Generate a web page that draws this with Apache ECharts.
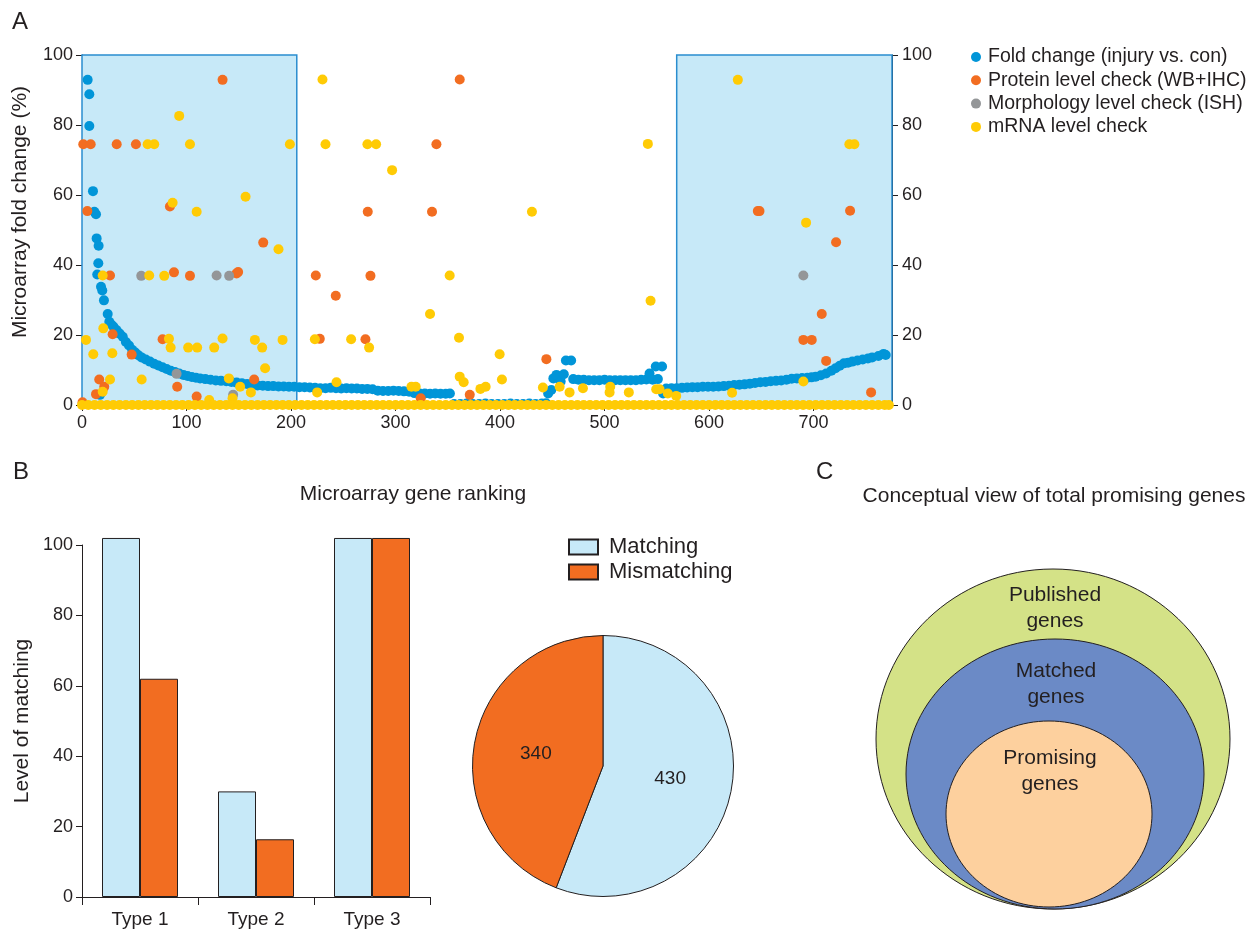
<!DOCTYPE html>
<html>
<head>
<meta charset="utf-8">
<title>Microarray gene ranking</title>
<script src="https://cdn.jsdelivr.net/npm/echarts@6.0.0/dist/echarts.min.js"></script>
<style>
  html, body { margin: 0; padding: 0; background: #fff; }
  #main { width: 1255px; height: 931px; }
</style>
</head>
<body>
<div id="main"></div>
<script>
// ---- panel A data : [rank, value] ----
const foldChange = [
  [5.4,92.9],[7,88.8],[7,79.7],[10.5,61.1],[11.8,55.2],[13.4,54.5],[14,47.6],[15.9,45.5],[15.6,40.5],[14.6,37.3],
  [18.2,33.8],[19.4,32.7],[21,29.9],[24.6,26],[26.1,23.8],[17.2,2.9],
  [28,23],[30,22.4],[33,21.4],[36,20.4],[39,19.5],[42,18],[45,17],[48,15.8],[51,15],[54,14.2],[57,13.6],[61,13],
  [65,12.4],[69,11.8],[73,11.3],[77,10.8],[81,10.3],[85,9.8],[89,9.4],[93,9],[97,8.6],[101,8.3],[105,8],[109,7.8],
  [113,7.6],[118,7.4],[123,7.2],[128,7],[133,6.9],[138,6.8],[143,6.6],[148,6.4],[153,6.2],[158,6],[163,5.8],[168,5.6],
  [173,5.5],[178,5.4],[183,5.4],[188,5.3],[193,5.3],[198,5.2],[203,5.2],[208,5.1],[213,5.1],[218,5.0],[223,4.9],
  [228,4.8],[233,4.8],[238,4.9],[243,4.8],[248,4.7],[253,4.8],[258,4.7],[263,4.7],[268,4.6],[273,4.6],[278,4.5],
  [283,4.1],[288,4.0],[293,4.0],[298,4.1],[303,4.0],[308,3.9],[313,3.8],[318,3.4],[323,3.3],[328,3.3],[333,3.2],
  [338,3.3],[343,3.2],[348,3.2],[352,3.3],
  [356,0.3],[362,0.3],[368,0.4],[374,0.3],[380,0.3],[386,0.4],[392,0.3],[398,0.3],[404,0.3],[410,0.4],[416,0.3],
  [422,0.3],[428,0.4],[434,0.3],[440,0.4],[444,0.5],
  [446,3.3],[449,4.3],[451,7.6],[454,8.6],[458,6.7],[461,8.8],[463,12.7],[468,12.7],[470,7.4],[475,7.2],[480,7.2],
  [485,7.1],[490,7.1],[495,7.1],[500,7.2],[505,7.1],[510,7.1],[515,7.1],[520,7.1],[525,7.1],[530,7.1],[535,7.2],
  [540,7.3],[543,9],[546,7.2],[549,11],[551,7.4],[555,11],[556,3.3],[559,4.7],[564,4.8],[569,4.8],[574,4.9],
  [579,5.0],[584,5.1],[589,5.1],[594,5.2],[599,5.2],[604,5.2],[609,5.3],[614,5.4],[619,5.5],[624,5.7],[629,5.8],
  [634,5.9],[639,6.1],[644,6.3],[649,6.5],[654,6.6],[659,6.8],[664,6.9],[669,7.0],[674,7.2],[679,7.5],[684,7.6],
  [689,7.7],[694,7.8],[698,7.9],[702,8.1],[707,8.5],[712,9],[717,9.8],[721,10.5],[725,11.2],[729,11.9],[733,12.1],
  [737,12.4],[742,12.7],[747,13],[752,13.3],[756,13.6],[762,14],[767,14.6],[769,14.3]
];

const proteinCheck = [
  [134.5,92.9],[1.2,74.5],[8.3,74.5],[33.2,74.5],[51.6,74.5],[84.1,56.7],[5.1,55.4],[173.4,46.4],[26.8,37],
  [88,37.9],[103.3,36.9],[147.9,37.6],[149.4,38],[77.1,18.8],[29.3,20.2],[47.5,14.4],[16.5,7.3],[21.3,5.2],
  [13.4,3.1],[91.1,5.2],[109.7,2.4],[164.7,7.3],[0.5,0.8],
  [361.4,93],[339.1,74.5],[273.4,55.2],[334.9,55.2],[223.7,37],[276,36.9],[242.8,31.2],[227.5,18.9],[271.2,18.8],
  [444.3,13.1],[324.1,1.9],[371,2.9],
  [646.6,55.4],[648.2,55.4],[734.9,55.5],[721.5,46.5],[707.8,26],[690.2,18.6],[698.2,18.6],[712,12.6],[755,3.6]
];

const morphologyCheck = [
  [56.7,36.9],[128.8,37],[140.8,36.9],[90.5,8.9],[144.6,2.9],[690.2,37]
];

const mrnaCheck = [
  [93,82.6],[62.8,74.5],[69.1,74.5],[103.3,74.5],[198.9,74.5],[86.7,57.8],[109.7,55.2],[156.5,59.5],[188,44.5],
  [19.8,37],[64.3,37],[78.7,36.9],[3.8,18.6],[10.8,14.5],[20.4,21.9],[29,14.8],[26.8,7.3],[19.8,3.8],[57.1,7.3],
  [83.2,18.9],[84.8,16.4],[101.6,16.4],[110.2,16.4],[126.5,16.4],[134.5,19],[165.4,18.6],[172.4,16.4],[191.9,18.6],
  [175.2,10.5],[140.5,7.6],[151.3,5.2],[161.6,3.6],[144,1.9],[121.7,1.4],
  [230.1,93],[233,74.5],[273.1,74.5],[281.4,74.5],[296.7,67.1],[430.5,55.2],[351.8,37],[333,26],[222.8,18.8],
  [257.5,18.8],[274.7,16.4],[360.7,19.2],[399.6,14.5],[243.5,6.5],[225,3.6],[315.2,5.2],[319.3,5.2],[361.4,8.1],
  [365.2,6.5],[381.2,4.6],[386.2,5.2],[401.8,7.3],[441,5.0],[457,5.2],[466.5,3.6],[479.3,4.8],
  [627.5,92.9],[541.4,74.6],[734.2,74.5],[739,74.5],[692.8,52.1],[544,29.8],[690.2,6.7],[622,3.5],[505.4,5.2],
  [504.8,3.6],[523.2,3.6],[549.4,4.5],[552.6,4.5],[560.5,3.3],[568.5,2.6]
];

// genes with no mRNA check sit on the zero line
const mrnaZeroRanks = [
  0,6,12,18,24,30,36,42,48,54,60,66,72,78,84,90,96,102,108,114,120,126,132,138,144,150,156,162,168,174,180,
  186,192,198,204,210,216,222,228,234,240,246,252,258,264,270,276,282,288,294,300,306,312,318,324,330,336,342,
  348,354,360,366,372,378,384,390,396,402,408,414,420,426,432,438,444,450,456,462,468,474,480,486,492,498,504,
  510,516,522,528,534,540,546,552,558,564,570,576,582,588,594,600,606,612,618,624,630,636,642,648,654,660,666,
  672,678,684,690,696,702,708,714,720,726,732,738,744,750,756,762,768,772
];

const shadedRanges = [[0, 205.5], [569, 775]];
const rankTicks = [0, 775, 100];
const percentTicks = [0, 100, 20];

// ---- panel B data ----
const types = ['Type 1', 'Type 2', 'Type 3'];
const matching = [102, 30, 102];
const mismatching = [62, 16.4, 102];
const pieCounts = [430, 340];

// ---- panel C labels ----
const circleLabels = ['Published\ngenes', 'Matched\ngenes', 'Promising\ngenes'];

const names = ['Fold change (injury vs. con)', 'Protein level check (WB+IHC)', 'Morphology level check (ISH)', 'mRNA level check'];
const BLUE = '#0195d8', ORANGE = '#f26d21', GRAY = '#949698', YELLOW = '#ffcb05';
const LIGHT = '#c7e9f8', INK = '#231f20';
const FONT = "'Liberation Sans', Arial, sans-serif";

let myChart = echarts.init(document.getElementById('main'), null, { renderer: 'canvas' });

const axisBase = {
  axisLine: { show: true, lineStyle: { color: INK, width: 1 } },
  axisTick: { show: true, inside: false, length: 6, lineStyle: { color: INK } },
  splitLine: { show: false },
  axisLabel: { color: INK, fontSize: 18, fontFamily: FONT }
};

function rotatedText(x, y, text) {
  return { type: 'text', x: x, y: y, rotation: Math.PI / 2,
    style: { text: text, fill: INK, font: '21px ' + FONT, textAlign: 'center', textVerticalAlign: 'middle' } };
}
function plainText(x, y, text, size, align) {
  return { type: 'text', x: x, y: y,
    style: { text: text, fill: INK, font: size + 'px ' + FONT, textAlign: align || 'center', textVerticalAlign: 'middle', lineHeight: 26 } };
}

let option = {
  animation: false,
  backgroundColor: '#fff',
  textStyle: { fontFamily: FONT, color: INK },
  grid: [
    { left: 82, top: 55, width: 810, height: 350, containLabel: false },
    { left: 82, top: 545, width: 348, height: 352, containLabel: false }
  ],
  legend: [
    {
      data: names, orient: 'vertical', left: 966, top: 42, icon: 'circle',
      itemWidth: 14, itemHeight: 10, itemGap: 3.3, selectedMode: false,
      textStyle: { fontSize: 19.5, color: INK, fontFamily: FONT, lineHeight: 20 }
    },
    {
      data: ['Matching', 'Mismatching'], orient: 'vertical', left: 563, top: 531, icon: 'rect',
      itemWidth: 29, itemHeight: 15, itemGap: 3, selectedMode: false,
      textStyle: { fontSize: 22, color: INK, fontFamily: FONT, lineHeight: 22, padding: [0, 0, 0, 6] }
    }
  ],
  xAxis: [
    Object.assign({}, axisBase, {
      type: 'value', gridIndex: 0, min: rankTicks[0], max: rankTicks[1], interval: rankTicks[2],
      axisLabel: Object.assign({}, axisBase.axisLabel, { margin: 9, showMaxLabel: false })
    }),
    Object.assign({}, axisBase, {
      type: 'category', gridIndex: 1, data: types,
      axisTick: { show: true, length: 8, lineStyle: { color: INK } },
      axisLabel: Object.assign({}, axisBase.axisLabel, { fontSize: 19, margin: 13 })
    })
  ],
  yAxis: [
    Object.assign({}, axisBase, { type: 'value', gridIndex: 0, min: percentTicks[0], max: percentTicks[1], interval: percentTicks[2],
      axisLabel: Object.assign({}, axisBase.axisLabel, { margin: 9 }) }),
    Object.assign({}, axisBase, { type: 'value', gridIndex: 0, position: 'right', min: percentTicks[0], max: percentTicks[1], interval: percentTicks[2],
      axisLabel: Object.assign({}, axisBase.axisLabel, { margin: 10 }) }),
    Object.assign({}, axisBase, { type: 'value', gridIndex: 1, min: percentTicks[0], max: percentTicks[1], interval: percentTicks[2],
      axisLabel: Object.assign({}, axisBase.axisLabel, { margin: 9 }) })
  ],
  series: [
    {
      // shaded boxes behind the points
      type: 'scatter', name: 'shade', xAxisIndex: 0, yAxisIndex: 0, data: [], z: 1, silent: true,
      markArea: {
        silent: true,
        itemStyle: { color: LIGHT, borderColor: '#2a8dcf', borderWidth: 1.5 },
        data: shadedRanges.map(r => [{ xAxis: r[0], yAxis: 0 }, { xAxis: r[1], yAxis: 100 }])
      }
    },
    { type: 'scatter', name: names[0], xAxisIndex: 0, yAxisIndex: 0, symbolSize: 10, itemStyle: { color: BLUE, opacity: 1 }, data: foldChange },
    { type: 'scatter', name: names[1], xAxisIndex: 0, yAxisIndex: 0, symbolSize: 10, itemStyle: { color: ORANGE, opacity: 1 }, data: proteinCheck },
    { type: 'scatter', name: names[2], xAxisIndex: 0, yAxisIndex: 0, symbolSize: 10, itemStyle: { color: GRAY, opacity: 1 }, data: morphologyCheck },
    { type: 'scatter', name: names[3], xAxisIndex: 0, yAxisIndex: 0, symbolSize: 10, itemStyle: { color: YELLOW, opacity: 1 },
      data: mrnaCheck.concat(mrnaZeroRanks.map(r => [r, 0])) },
    {
      type: 'bar', name: 'Matching', xAxisIndex: 1, yAxisIndex: 2, data: matching, clip: false,
      barWidth: 38, barGap: '0%',
      itemStyle: { color: LIGHT, borderColor: INK, borderWidth: 1 }
    },
    {
      type: 'bar', name: 'Mismatching', xAxisIndex: 1, yAxisIndex: 2, data: mismatching, clip: false,
      barWidth: 38, barGap: '0%',
      itemStyle: { color: ORANGE, borderColor: INK, borderWidth: 1 }
    },
    {
      type: 'pie', name: 'pie', center: [603, 766], radius: 130.5, startAngle: 90, clockwise: true,
      avoidLabelOverlap: false, silent: true,
      label: { show: true, position: 'inside', fontSize: 19, color: INK, fontFamily: FONT },
      labelLine: { show: false },
      itemStyle: { borderColor: INK, borderWidth: 1 },
      data: [
        { name: 'Matching', value: pieCounts[0], itemStyle: { color: LIGHT }, label: { formatter: '{c}' } },
        { name: 'Mismatching', value: pieCounts[1], itemStyle: { color: ORANGE }, label: { formatter: '{c}' } }
      ]
    }
  ],
  graphic: [
    plainText(12, 22, 'A', 24, 'left'),
    plainText(13, 472, 'B', 24, 'left'),
    plainText(816, 472, 'C', 24, 'left'),
    rotatedText(20, 212, 'Microarray fold change (%)'),
    plainText(413, 494, 'Microarray gene ranking', 21),
    rotatedText(22, 721, 'Level of matching'),
    plainText(1054, 496, 'Conceptual view of total promising genes', 21),
    // nested sets
    { type: 'ellipse', shape: { cx: 1053, cy: 739, rx: 177, ry: 170 }, style: { fill: '#d4e287', stroke: INK, lineWidth: 1 } },
    { type: 'ellipse', shape: { cx: 1055, cy: 774, rx: 149, ry: 135 }, style: { fill: '#6b8ac6', stroke: INK, lineWidth: 1 } },
    { type: 'ellipse', shape: { cx: 1049, cy: 814, rx: 103, ry: 93 }, style: { fill: '#fdd09e', stroke: INK, lineWidth: 1 } },
    plainText(1055, 608, circleLabels[0], 21),
    plainText(1056, 684, circleLabels[1], 21),
    plainText(1050, 771, circleLabels[2], 21)
  ]
};

myChart.setOption(option);
</script>
</body>
</html>
